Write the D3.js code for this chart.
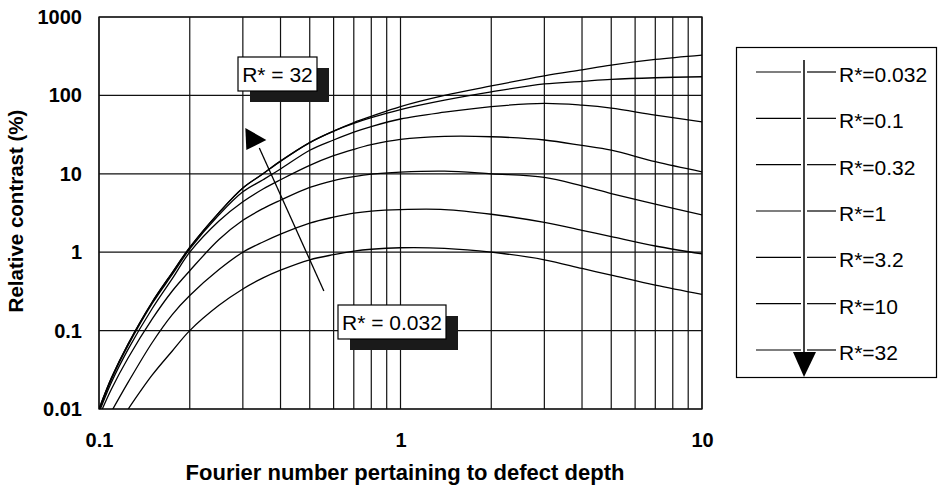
<!DOCTYPE html>
<html>
<head>
<meta charset="utf-8">
<script src="https://cdn.jsdelivr.net/npm/d3@7"></script>
<style>
  body { margin: 0; background: #fff; }
  svg { display: block; font-family: "Liberation Sans", Arial, sans-serif; }
</style>
</head>
<body>
<div id="chart"></div>
<script>
// Fourier numbers the curves were read at
const fourier = [0.1, 0.11, 0.125, 0.15, 0.175, 0.2, 0.25, 0.3, 0.35, 0.4, 0.5, 0.6, 0.7, 0.8, 1, 1.4, 2, 3, 4, 5, 7, 10];

// relative contrast (%) for every R* (null = below the axis)
const rc_R0032 = [null, null, 0.01, 0.027, 0.055, 0.1, 0.21, 0.34, 0.47, 0.59, 0.8, 0.93, 1.03, 1.09, 1.14, 1.12, 1.0, 0.8, 0.62, 0.51, 0.38, 0.29];
const rc_R01   = [null, 0.0093, 0.022, 0.07, 0.16, 0.28, 0.6, 1.0, 1.35, 1.7, 2.35, 2.8, 3.15, 3.35, 3.5, 3.5, 3.05, 2.4, 1.9, 1.58, 1.2, 0.95];
const rc_R032  = [0.008, 0.018, 0.045, 0.14, 0.32, 0.58, 1.45, 2.55, 3.6, 4.6, 6.7, 8.2, 9.2, 9.9, 10.5, 10.8, 10, 9.0, 7.0, 5.6, 4.1, 3.0];
const rc_R1    = [0.009, 0.022, 0.058, 0.19, 0.46, 1.0, 2.5, 4.4, 6.4, 8.4, 12.8, 17, 20.5, 23.5, 27.5, 30, 29.7, 27, 23, 20, 14.3, 10.6];
const rc_R32   = [0.0095, 0.024, 0.065, 0.22, 0.52, 1.1, 3.0, 5.9, 8.4, 11.5, 20, 27, 34, 40, 50, 61, 72, 79, 75, 69, 56, 46];
const rc_R10   = [0.01, 0.025, 0.068, 0.23, 0.55, 1.15, 3.2, 6.6, 10, 14.5, 25, 35, 44, 52, 66, 87, 111, 140, 151, 160, 168, 173];
const rc_R320  = [0.01, 0.025, 0.068, 0.23, 0.55, 1.15, 3.2, 6.6, 10, 14.5, 25, 35, 45, 54, 72, 100, 132, 177, 212, 244, 288, 327];

const series = [rc_R0032, rc_R01, rc_R032, rc_R1, rc_R32, rc_R10, rc_R320];
const legendLabels = ["R*=0.032", "R*=0.1", "R*=0.32", "R*=1", "R*=3.2", "R*=10", "R*=32"];

const yTicks = [0.01, 0.1, 1, 10, 100, 1000];
const yTickLabels = ["0.01", "0.1", "1", "10", "100", "1000"];
const xTicks = [0.1, 1, 10];
const xTickLabels = ["0.1", "1", "10"];

const width = 946;
const height = 485;
const plotLeft = 99, plotRight = 702, plotTop = 17, plotBottom = 409;

const svg = d3.select("#chart").append("svg")
  .attr("width", width)
  .attr("height", height);

const x = d3.scaleLog().domain([0.1, 10]).range([plotLeft, plotRight]);
const y = d3.scaleLog().domain([0.01, 1000]).range([plotBottom, plotTop]);

// grid
const xGrid = [];
for (let d = 0.1; d <= 1.0001; d += 0.1) xGrid.push(+d.toFixed(1));
for (let d = 2; d <= 10; d++) xGrid.push(d);

svg.append("g")
  .selectAll("line")
  .data(xGrid)
  .enter()
  .append("line")
  .attr("x1", d => x(d)).attr("x2", d => x(d))
  .attr("y1", plotTop).attr("y2", plotBottom)
  .attr("stroke", "#111")
  .attr("stroke-width", 1.2);

svg.append("g")
  .selectAll("line")
  .data(yTicks)
  .enter()
  .append("line")
  .attr("x1", plotLeft).attr("x2", plotRight)
  .attr("y1", d => y(d)).attr("y2", d => y(d))
  .attr("stroke", "#111")
  .attr("stroke-width", 1.2);

svg.append("rect")
  .attr("x", plotLeft).attr("y", plotTop)
  .attr("width", plotRight - plotLeft).attr("height", plotBottom - plotTop)
  .attr("fill", "none")
  .attr("stroke", "#111")
  .attr("stroke-width", 1.3);

// axes (labels only)
const yAxis = svg.append("g")
  .attr("transform", `translate(${plotLeft},0)`)
  .call(d3.axisLeft(y).tickValues(yTicks).tickSize(0).tickPadding(17)
    .tickFormat((d, i) => yTickLabels[i]));
const xAxis = svg.append("g")
  .attr("transform", `translate(0,${plotBottom})`)
  .call(d3.axisBottom(x).tickValues(xTicks).tickSize(0).tickPadding(24)
    .tickFormat((d, i) => xTickLabels[i]));

[yAxis, xAxis].forEach(g => {
  g.select(".domain").remove();
  g.selectAll("text")
    .attr("font-family", "Liberation Sans, Arial, sans-serif")
    .attr("font-size", 20)
    .attr("font-weight", "bold")
    .attr("fill", "#000");
});

// axis titles
svg.append("text")
  .attr("x", 405).attr("y", 480)
  .attr("text-anchor", "middle")
  .attr("font-size", 22)
  .attr("font-weight", "bold")
  .text("Fourier number pertaining to defect depth");

svg.append("text")
  .attr("transform", "translate(23,211) rotate(-90)")
  .attr("text-anchor", "middle")
  .attr("font-size", 20.5)
  .attr("font-weight", "bold")
  .text("Relative contrast (%)");

// curves
svg.append("clipPath").attr("id", "plot")
  .append("rect")
  .attr("x", plotLeft).attr("y", plotTop)
  .attr("width", plotRight - plotLeft).attr("height", plotBottom - plotTop);

const line = d3.line()
  .defined(d => d[1] !== null)
  .x(d => x(d[0]))
  .y(d => y(d[1]))
  .curve(d3.curveCatmullRom.alpha(0.5));

svg.append("g")
  .attr("clip-path", "url(#plot)")
  .selectAll("path")
  .data(series)
  .enter()
  .append("path")
  .attr("d", s => line(fourier.map((f, i) => [f, s[i]])))
  .attr("fill", "none")
  .attr("stroke", "#000")
  .attr("stroke-width", 1.3);

// arrow from R* = 0.032 to R* = 32
const arrowFrom = [x(0.557), y(0.32)];
const arrowTo = [x(0.33), y(27)];
svg.append("line")
  .attr("x1", arrowFrom[0]).attr("y1", arrowFrom[1])
  .attr("x2", arrowTo[0] + 4).attr("y2", arrowTo[1] + 8)
  .attr("stroke", "#000")
  .attr("stroke-width", 1.3);
svg.append("path")
  .attr("d", `M${arrowTo[0] - 10},${arrowTo[1] - 12} L${arrowTo[0] + 11},${arrowTo[1]} L${arrowTo[0] - 9},${arrowTo[1] + 10} Z`)
  .attr("fill", "#000");

// annotation boxes with drop shadow
function callout(bx, by, w, h, label) {
  svg.append("rect")
    .attr("x", bx + 12).attr("y", by + 11)
    .attr("width", w).attr("height", h)
    .attr("fill", "#1a1a1a");
  svg.append("rect")
    .attr("x", bx).attr("y", by)
    .attr("width", w).attr("height", h)
    .attr("fill", "#fff")
    .attr("stroke", "#000")
    .attr("stroke-width", 1.2);
  svg.append("text")
    .attr("x", bx + w / 2).attr("y", by + h / 2 + 7.5)
    .attr("text-anchor", "middle")
    .attr("font-size", 21)
    .text(label);
}
callout(238, 57, 79, 34, "R* = 32");
callout(338, 305, 108, 34, "R* = 0.032");

// legend
const legend = svg.append("g");
legend.append("rect")
  .attr("x", 736.5).attr("y", 47.5)
  .attr("width", 200).attr("height", 330)
  .attr("fill", "#fff")
  .attr("stroke", "#000")
  .attr("stroke-width", 1.2);

const ly = d3.scaleLinear().domain([0, 6]).range([72, 350]);
const items = legend.selectAll("g.item")
  .data(legendLabels)
  .enter()
  .append("g")
  .attr("class", "item")
  .attr("transform", (d, i) => `translate(0,${ly(i)})`);
items.append("line")
  .attr("x1", 756).attr("x2", 801)
  .attr("stroke", "#000").attr("stroke-width", 1.2);
items.append("line")
  .attr("x1", 807).attr("x2", 836)
  .attr("stroke", "#000").attr("stroke-width", 1.2);
items.append("text")
  .attr("x", 839).attr("y", 10)
  .attr("font-size", 21)
  .text(d => d);

legend.append("line")
  .attr("x1", 804).attr("x2", 804)
  .attr("y1", 60).attr("y2", 356)
  .attr("stroke", "#000").attr("stroke-width", 1.5);
legend.append("path")
  .attr("d", "M793,352 L816,352 L804,377 Z")
  .attr("fill", "#000");
</script>
</body>
</html>
